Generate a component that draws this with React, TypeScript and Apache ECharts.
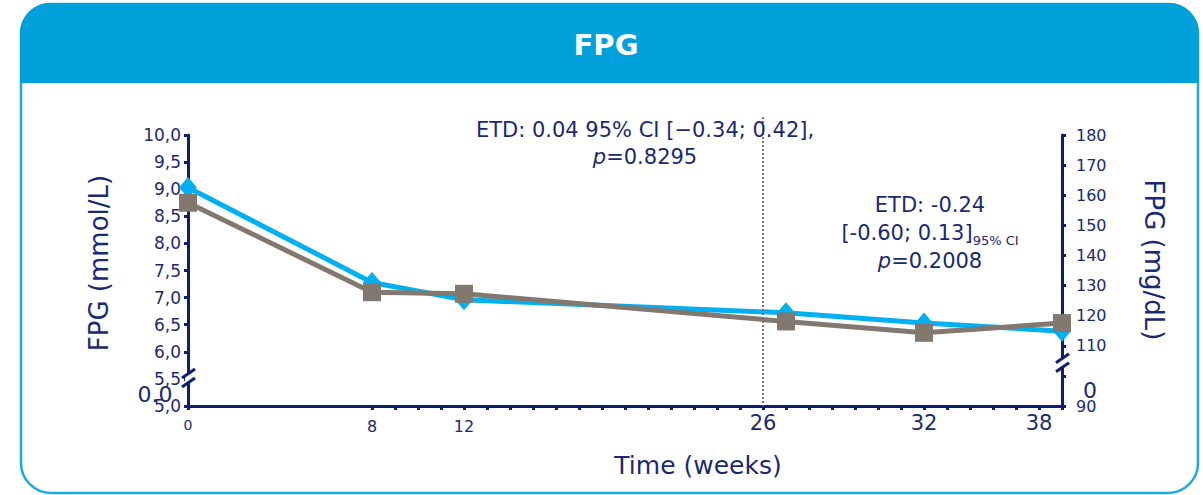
import { useEffect, useRef } from "react";
import * as echarts from "echarts";

const weeks = [0, 8, 12, 26, 32, 38];
const blueValues = [9.03, 7.28, 6.96, 6.72, 6.53, 6.38];
const greyValues = [8.75, 7.1, 7.07, 6.56, 6.35, 6.53];

const leftMin = 5;
const leftMax = 10;
const leftStep = 0.5;
const rightMin = 90;
const rightMax = 180;
const rightStep = 10;

const xTickValues = [0, 8, 9, 10, 11, 12, 13, 14, 15, 16, 17, 18, 19, 20, 21, 22, 23, 24, 25, 26, 27, 28, 29, 30, 31, 32, 33, 34, 35, 36, 37, 38];
const xLabelValues = [0, 8, 12, 25, 32, 37];
const xLabelTexts = ["0", "8", "12", "26", "32", "38"];

const markerWeek = 25;
const leftBreakValue = 5.5;
const rightBreakValue = 104;

const NAVY = "#0d1f6e";
const TEXT = "#1a2a70";
const FONT = "DejaVu Sans";

export default function App() {
  const ref = useRef<HTMLDivElement>(null);

  useEffect(() => {
    if (!ref.current) return;
    const chart = echarts.init(ref.current, undefined, { renderer: "svg" });

    const option: any = {
      animation: false,
      grid: { left: 188, right: 141, top: 135, bottom: 89 },
      xAxis: {
        type: "value",
        min: 0,
        max: 38,
        splitLine: { show: false },
        axisLine: { lineStyle: { color: NAVY, width: 3 } },
        axisTick: {
          show: true,
          customValues: xTickValues,
          length: 4,
          lineStyle: { color: NAVY, width: 3 },
        },
        axisLabel: {
          customValues: xLabelValues,
          margin: 6,
          color: TEXT,
          fontFamily: FONT,
          formatter: (v: number) => {
            const i = xLabelValues.indexOf(v);
            if (i < 0) return "";
            if (i === 0) return "{t|" + xLabelTexts[i] + "}";
            return (i < 3 ? "{s|" : "{b|") + xLabelTexts[i] + "}";
          },
          rich: {
            t: { fontSize: 14, fontFamily: FONT, color: TEXT, padding: [6, 0, 0, 0] },
            s: { fontSize: 16, fontFamily: FONT, color: TEXT, padding: [6, 0, 0, 0] },
            b: { fontSize: 21, fontFamily: FONT, color: TEXT },
          },
        },
      },
      yAxis: [
        {
          type: "value",
          min: leftMin,
          max: leftMax,
          interval: leftStep,
          position: "left",
          splitLine: { show: false },
          axisLine: { show: true, lineStyle: { color: NAVY, width: 3 } },
          axisTick: { show: true, length: 4, lineStyle: { color: NAVY, width: 3 } },
          axisLabel: {
            margin: 7,
            fontSize: 17,
            fontFamily: FONT,
            color: TEXT,
            formatter: (v: number) => v.toFixed(1).replace(".", ","),
          },
        },
        {
          type: "value",
          min: rightMin,
          max: rightMax,
          interval: rightStep,
          position: "right",
          splitLine: { show: false },
          axisLine: { show: true, lineStyle: { color: NAVY, width: 3 } },
          axisTick: { show: true, length: 4, lineStyle: { color: NAVY, width: 3 } },
          axisLabel: {
            margin: 14,
            fontSize: 16,
            fontFamily: FONT,
            color: TEXT,
            formatter: (v: number) => (v === 100 ? "" : String(v)),
          },
        },
      ],
      series: [
        {
          type: "line",
          name: "A",
          clip: false,
          data: weeks.map((w, i) => [w, blueValues[i]]),
          symbol: "diamond",
          symbolSize: [18, 21],
          lineStyle: { color: "#00b0f0", width: 5 },
          itemStyle: { color: "#00b0f0" },
          z: 3,
        },
        {
          type: "line",
          name: "B",
          clip: false,
          data: weeks.map((w, i) => [w, greyValues[i]]),
          symbol: "rect",
          symbolSize: 18,
          lineStyle: { color: "#827870", width: 5 },
          itemStyle: { color: "#827870" },
          z: 4,
        },
      ],
      graphic: [],
    };
    chart.setOption(option);

    const px = (axis: "x" | "y0" | "y1", v: number) => {
      if (axis === "x") return chart.convertToPixel({ xAxisIndex: 0 }, v) as number;
      if (axis === "y0") return chart.convertToPixel({ yAxisIndex: 0 }, v) as number;
      return chart.convertToPixel({ yAxisIndex: 1 }, v) as number;
    };

    const xL = px("x", 0);
    const xR = px("x", 38);
    const xMark = px("x", markerWeek);
    const yTop = px("y0", 10.33);
    const yBot = px("y0", leftMin);
    const yBreakL = px("y0", leftBreakValue);
    const yBreakR = px("y1", rightBreakValue);

    const breakMark = (cx: number, cy: number, id: string) => ({
      type: "group",
      id,
      x: cx,
      y: cy,
      z: 20,
      children: [
        { type: "rect", shape: { x: -3, y: -5, width: 6, height: 8 }, style: { fill: "#fff" }, z: 20 },
        { type: "line", shape: { x1: -6, y1: -1, x2: 7, y2: -10 }, style: { stroke: NAVY, lineWidth: 3 }, z: 21 },
        { type: "line", shape: { x1: -6, y1: 8, x2: 7, y2: -1 }, style: { stroke: NAVY, lineWidth: 3 }, z: 21 },
      ],
    });

    chart.setOption({
      graphic: [
        {
          type: "rect",
          id: "panel",
          z: -10,
          shape: { x: 21, y: 4, width: 1177, height: 489, r: 30 },
          style: { fill: "#fff", stroke: "#1aa9e0", lineWidth: 2.5 },
        },
        {
          type: "rect",
          id: "header",
          z: -9,
          shape: { x: 20, y: 3, width: 1179, height: 80, r: [30, 30, 0, 0] },
          style: { fill: "#00a0da" },
        },
        {
          type: "text",
          id: "title",
          x: 606,
          y: 45,
          style: {
            text: "FPG",
            fill: "#fff",
            font: `bold 29px "${FONT}"`,
            align: "center",
            verticalAlign: "middle",
          },
        },
        {
          type: "text",
          id: "yname0",
          x: 99,
          y: 263,
          rotation: Math.PI / 2,
          style: {
            text: "FPG (mmol/L)",
            fill: TEXT,
            font: `26px "${FONT}"`,
            align: "center",
            verticalAlign: "middle",
          },
        },
        {
          type: "text",
          id: "yname1",
          x: 1154,
          y: 260,
          rotation: -Math.PI / 2,
          style: {
            text: "FPG (mg/dL)",
            fill: TEXT,
            font: `26px "${FONT}"`,
            align: "center",
            verticalAlign: "middle",
          },
        },
        {
          type: "line",
          id: "mark",
          z: 5,
          shape: { x1: xMark, y1: yTop, x2: xMark, y2: yBot },
          style: { stroke: "#7d736b", lineWidth: 2, lineDash: [2, 2] },
        },
        {
          type: "text",
          id: "ann1",
          x: 645,
          y: 143,
          z: 6,
          style: {
            text: "{n|ETD: 0.04 95% CI [\u22120.34; 0.42],}\n{i|p}{n|=0.8295}",
            align: "center",
            verticalAlign: "middle",
            rich: {
              n: { fontSize: 21, fontFamily: FONT, fill: TEXT, lineHeight: 27 },
              i: { fontSize: 21, fontFamily: FONT, fontStyle: "italic", fill: TEXT, lineHeight: 27 },
            },
          },
        },
        {
          type: "text",
          id: "ann2",
          x: 930,
          y: 233,
          z: 6,
          style: {
            text: "{n|ETD: -0.24}\n{n|[-0.60; 0.13]}{s|95% CI}\n{i|p}{n|=0.2008}",
            align: "center",
            verticalAlign: "middle",
            rich: {
              n: { fontSize: 21, fontFamily: FONT, fill: TEXT, lineHeight: 28 },
              i: { fontSize: 21, fontFamily: FONT, fontStyle: "italic", fill: TEXT, lineHeight: 28 },
              s: { fontSize: 13, fontFamily: FONT, fill: TEXT, verticalAlign: "bottom", lineHeight: 28, padding: [10, 0, 0, 0] },
            },
          },
        },
        {
          type: "text",
          id: "xname",
          x: 698,
          y: 465,
          style: {
            text: "Time (weeks)",
            fill: TEXT,
            font: `25px "${FONT}"`,
            align: "center",
            verticalAlign: "middle",
          },
        },
        breakMark(xL, yBreakL, "breakL"),
        breakMark(xR, yBreakR, "breakR"),
        {
          type: "text",
          id: "ovl",
          x: 155,
          y: 394,
          z: 22,
          style: { text: "0.0", fill: TEXT, font: `22px "${FONT}"`, align: "center", verticalAlign: "middle" },
        },
        {
          type: "text",
          id: "ovr",
          x: 1090,
          y: 390,
          z: 22,
          style: { text: "0", fill: TEXT, font: `22px "${FONT}"`, align: "center", verticalAlign: "middle" },
        },
      ],
    });

    return () => chart.dispose();
  }, []);

  return (
    <div
      ref={ref}
      style={{ position: "absolute", left: 0, top: 0, width: 1203, height: 495 }}
    />
  );
}
